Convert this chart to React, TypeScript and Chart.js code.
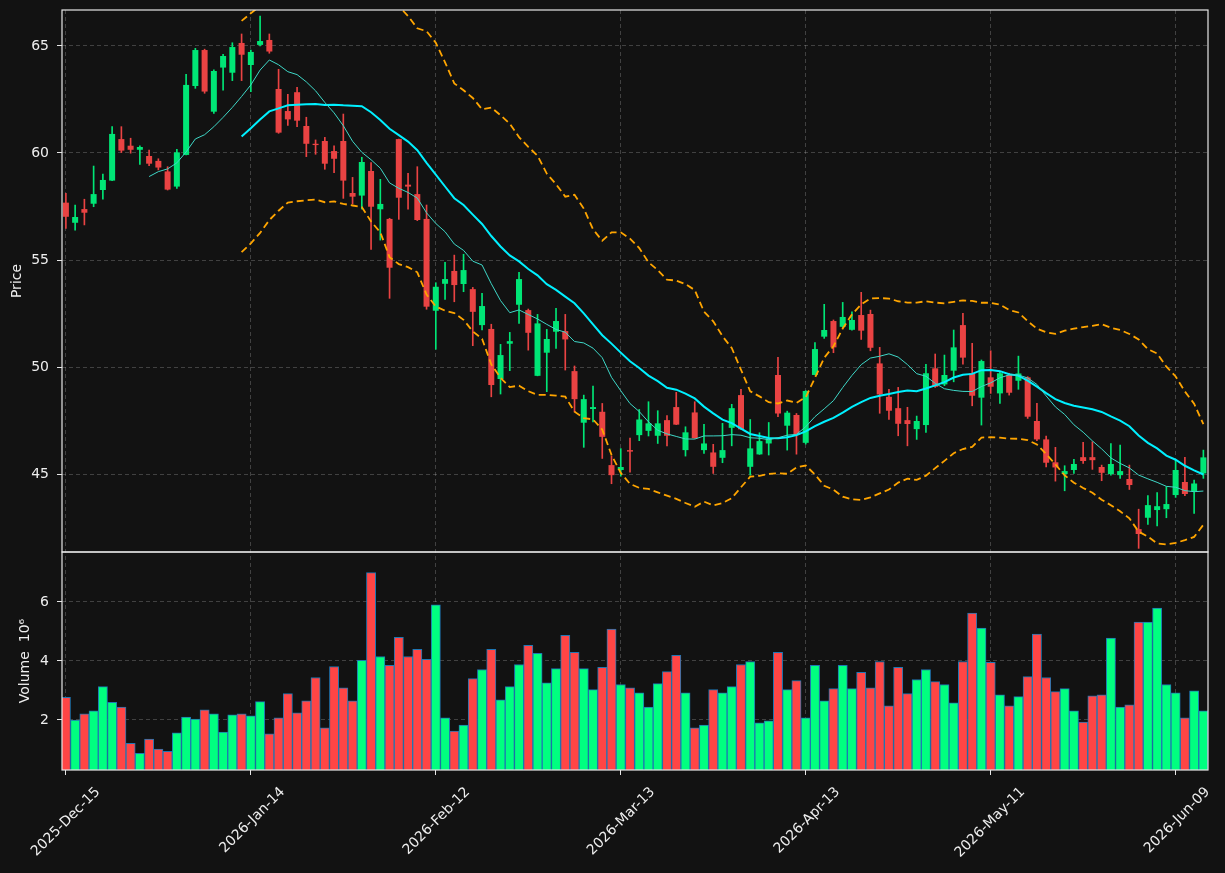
import React, { useEffect, useRef } from 'react';
import { Chart, registerables } from 'chart.js';

Chart.register(...registerables);

// ---- data ----
const opens = [
  57.68, 56.74, 57.38, 57.63, 58.27, 58.71, 60.65, 60.34, 60.15, 59.86,
  59.63, 59.14, 58.43, 59.91, 63.13, 64.81, 61.93, 63.99, 63.75, 65.14,
  64.11, 65.05, 65.28, 62.99, 61.96, 62.84, 61.26, 60.43, 60.56, 60.09,
  60.56, 58.13, 58.01, 59.16, 57.37, 56.92, 60.65, 58.52, 58.08, 56.92,
  52.63, 53.89, 54.49, 53.88, 53.64, 51.96, 51.78, 49.44, 51.09, 52.91,
  52.66, 49.59, 50.67, 51.65, 51.68, 49.81, 47.40, 48.04, 47.91, 45.42,
  45.19, 46.12, 46.82, 47.02, 46.79, 47.52, 48.13, 46.12, 47.88, 46.12,
  46.01, 45.76, 47.16, 48.69, 45.34, 45.92, 46.43, 49.63, 47.26, 47.76,
  46.46, 49.63, 51.42, 52.15, 51.88, 51.74, 52.43, 52.48, 50.17, 48.61,
  48.08, 47.52, 47.10, 47.29, 49.94, 49.19, 49.83, 51.96, 49.71, 48.57,
  49.52, 48.77, 49.63, 49.36, 49.52, 47.48, 46.62, 45.55, 45.00, 45.19,
  45.79, 45.79, 45.33, 45.00, 44.95, 44.77, 42.43, 42.96, 43.32, 43.36,
  44.02, 44.63, 44.21, 45.03,
];
const highs = [
  58.12, 57.57, 57.84, 59.39, 59.02, 61.23, 61.23, 60.69, 60.33, 60.14,
  59.73, 59.36, 60.17, 63.68, 64.89, 64.85, 63.88, 64.61, 65.15, 65.56,
  64.81, 66.40, 65.56, 63.91, 62.74, 63.07, 61.67, 60.61, 60.73, 60.33,
  61.82, 58.86, 59.80, 59.55, 58.77, 56.95, 60.65, 59.05, 59.36, 57.57,
  53.94, 54.89, 55.23, 55.27, 53.72, 53.44, 52.00, 51.06, 51.62, 54.43,
  52.71, 52.46, 51.76, 52.74, 52.46, 50.05, 48.69, 49.11, 48.30, 45.84,
  46.19, 46.68, 48.02, 48.38, 47.96, 47.73, 48.82, 47.21, 48.38, 47.32,
  46.39, 47.37, 48.26, 48.96, 47.55, 46.93, 47.41, 50.45, 47.94, 47.83,
  48.90, 51.14, 52.93, 52.20, 53.02, 52.58, 53.49, 52.66, 50.92, 48.96,
  49.05, 48.12, 47.71, 50.13, 50.61, 50.56, 51.73, 52.51, 51.11, 50.33,
  50.76, 49.78, 49.71, 50.51, 49.55, 48.30, 46.78, 46.25, 45.39, 45.69,
  46.48, 46.51, 45.42, 46.43, 46.36, 45.42, 43.36, 43.99, 44.14, 44.41,
  45.65, 45.78, 44.72, 46.12,
];
const lows = [
  56.48, 56.40, 56.64, 57.49, 57.84, 58.71, 60.02, 59.99, 59.47, 59.41,
  59.21, 58.27, 58.35, 59.91, 63.02, 62.79, 61.85, 62.94, 63.38, 63.38,
  62.87, 65.00, 64.66, 60.92, 61.29, 61.23, 59.83, 59.94, 59.24, 59.08,
  57.88, 57.62, 57.38, 55.50, 55.93, 53.21, 56.90, 57.38, 56.84, 52.70,
  50.83, 53.16, 53.05, 53.52, 51.00, 51.73, 48.61, 48.74, 49.83, 52.04,
  50.79, 49.59, 48.85, 50.87, 49.86, 47.91, 46.25, 47.44, 45.73, 44.55,
  44.90, 45.09, 46.56, 46.78, 46.43, 46.32, 47.31, 45.84, 46.67, 45.97,
  45.03, 45.53, 46.32, 47.09, 44.95, 45.92, 45.89, 47.68, 46.12, 45.93,
  46.40, 49.63, 51.34, 50.67, 51.85, 51.72, 51.29, 50.76, 47.84, 47.55,
  46.79, 46.32, 46.62, 46.95, 49.05, 49.13, 49.31, 50.13, 48.19, 47.29,
  48.77, 48.30, 48.69, 48.96, 47.60, 46.56, 45.34, 44.67, 44.22, 45.03,
  45.50, 45.22, 44.69, 44.95, 44.80, 44.28, 41.53, 42.65, 42.58, 42.96,
  43.91, 43.99, 43.16, 44.80,
];
const closes = [
  57.02, 57.01, 57.21, 58.08, 58.74, 60.89, 60.11, 60.15, 60.28, 59.50,
  59.32, 58.29, 60.03, 63.18, 64.81, 62.87, 63.83, 64.53, 64.95, 64.59,
  64.72, 65.23, 64.74, 60.95, 61.57, 61.51, 60.43, 60.37, 59.50, 59.73,
  58.71, 57.96, 59.58, 57.49, 57.62, 54.64, 57.91, 58.43, 56.87, 52.82,
  53.75, 54.11, 53.83, 54.53, 52.58, 52.85, 49.16, 50.56, 51.21, 54.11,
  51.60, 52.04, 51.31, 52.15, 51.29, 48.50, 48.50, 48.13, 46.74, 44.95,
  45.33, 46.05, 47.55, 47.37, 47.37, 46.79, 47.31, 46.95, 46.67, 46.43,
  45.34, 46.12, 48.08, 47.09, 46.20, 46.54, 46.67, 47.83, 47.87, 46.82,
  48.88, 50.84, 51.73, 50.92, 52.34, 52.20, 51.70, 50.90, 48.72, 47.96,
  47.35, 47.34, 47.48, 49.71, 49.08, 49.63, 50.92, 50.44, 48.66, 50.28,
  49.08, 49.71, 48.80, 49.70, 47.68, 46.62, 45.53, 45.31, 45.14, 45.47,
  45.61, 45.65, 45.06, 45.47, 45.14, 44.49, 42.20, 43.55, 43.50, 43.60,
  45.19, 44.07, 44.56, 45.78,
];
const volumes = [
  2.77, 2.00, 2.21, 2.31, 3.13, 2.60, 2.44, 1.21, 0.87, 1.35,
  1.01, 0.94, 1.56, 2.10, 2.03, 2.34, 2.21, 1.59, 2.17, 2.21,
  2.14, 2.62, 1.53, 2.07, 2.89, 2.24, 2.65, 3.44, 1.73, 3.81,
  3.09, 2.65, 4.02, 6.99, 4.15, 3.85, 4.80, 4.15, 4.39, 4.05,
  5.90, 2.07, 1.62, 1.83, 3.40, 3.71, 4.39, 2.68, 3.13, 3.88,
  4.53, 4.26, 3.26, 3.74, 4.87, 4.29, 3.74, 3.03, 3.78, 5.08,
  3.20, 3.09, 2.92, 2.44, 3.23, 3.64, 4.19, 2.92, 1.73, 1.83,
  3.03, 2.92, 3.13, 3.88, 3.98, 1.90, 1.97, 4.29, 3.03, 3.33,
  2.07, 3.85, 2.65, 3.06, 3.85, 3.06, 3.61, 3.09, 3.98, 2.48,
  3.78, 2.89, 3.37, 3.71, 3.30, 3.20, 2.58, 3.98, 5.62, 5.11,
  3.95, 2.85, 2.48, 2.79, 3.47, 4.91, 3.44, 2.96, 3.06, 2.31,
  1.93, 2.82, 2.85, 4.77, 2.44, 2.51, 5.32, 5.32, 5.79, 3.20,
  2.92, 2.07, 2.99, 2.31,
];
const tickIdx = [0, 20, 40, 60, 80, 100, 120];
const tickLabels = [
  '2025-Dec-15', '2026-Jan-14', '2026-Feb-12', '2026-Mar-13',
  '2026-Apr-13', '2026-May-11', '2026-Jun-09',
];
const priceTicks = [45, 50, 55, 60, 65];
const volTicks = [2, 4, 6];

// ---- derived indicators ----
function rollingMean(values: number[], n: number) {
  const out: { x: number; y: number }[] = [];
  for (let i = n - 1; i < values.length; i++) {
    let s = 0;
    for (let j = i - n + 1; j <= i; j++) s += values[j];
    out.push({ x: i, y: s / n });
  }
  return out;
}
function bollinger(values: number[], n: number, k: number, sign: number) {
  const out: { x: number; y: number }[] = [];
  for (let i = n - 1; i < values.length; i++) {
    let s = 0;
    for (let j = i - n + 1; j <= i; j++) s += values[j];
    const m = s / n;
    let v = 0;
    for (let j = i - n + 1; j <= i; j++) v += (values[j] - m) ** 2;
    const sd = Math.sqrt(v / n);
    out.push({ x: i, y: m + sign * k * sd });
  }
  return out;
}

const UP = '#00e676';
const DOWN = '#ea4343';
const VUP = '#00ff80';
const VDOWN = '#ff4545';
const TEXT = '#eeeeee';
const GRID = 'rgba(255,255,255,0.2)';
const FONT = { family: 'DejaVu Sans', size: 14 };

const framePlugin = {
  id: 'panelFrames',
  afterDraw(chart: any) {
    const { ctx, chartArea } = chart;
    const y = chart.scales.y;
    const yv = chart.scales.yv;
    ctx.save();
    ctx.strokeStyle = '#e6e6e6';
    ctx.lineWidth = 1.2;
    ctx.setLineDash([]);
    ctx.strokeRect(chartArea.left, y.top, chartArea.right - chartArea.left, y.bottom - y.top);
    ctx.strokeRect(chartArea.left, yv.top, chartArea.right - chartArea.left, yv.bottom - yv.top);
    ctx.restore();
  },
};

const yFit = (s: any) => {
  s.width = 62;
  s.paddingTop = 0;
  s.paddingBottom = 0;
};

export default function App() {
  const ref = useRef<HTMLCanvasElement | null>(null);

  useEffect(() => {
    if (!ref.current) return;
    const idx = closes.map((_, i) => i);
    const isUp = idx.map((i) => closes[i] >= opens[i]);

    const chart = new Chart(ref.current, {
      type: 'bar',
      data: {
        datasets: [
          {
            type: 'line',
            data: rollingMean(closes, 10),
            yAxisID: 'y',
            borderColor: '#3fd8c8',
            borderWidth: 1,
            pointRadius: 0,
            order: 0,
          },
          {
            type: 'line',
            data: rollingMean(closes, 20),
            yAxisID: 'y',
            borderColor: '#00f0ff',
            borderWidth: 2,
            pointRadius: 0,
            order: 0,
          },
          {
            type: 'line',
            data: bollinger(closes, 20, 2, 1),
            yAxisID: 'y',
            borderColor: '#ffa500',
            borderWidth: 1.8,
            borderDash: [7, 4],
            pointRadius: 0,
            order: 0,
          },
          {
            type: 'line',
            data: bollinger(closes, 20, 2, -1),
            yAxisID: 'y',
            borderColor: '#ffa500',
            borderWidth: 1.8,
            borderDash: [7, 4],
            pointRadius: 0,
            order: 0,
          },
          {
            type: 'bar',
            data: idx.map((i) => ({ x: i, y: [opens[i], closes[i]] })),
            yAxisID: 'y',
            backgroundColor: isUp.map((u) => (u ? UP : DOWN)),
            borderWidth: 0,
            barPercentage: 0.65,
            categoryPercentage: 1,
            grouped: false,
            order: 1,
          },
          {
            type: 'bar',
            data: idx.map((i) => ({ x: i, y: [lows[i], highs[i]] })),
            yAxisID: 'y',
            backgroundColor: isUp.map((u) => (u ? UP : DOWN)),
            borderWidth: 0,
            barThickness: 1,
            grouped: false,
            order: 2,
          },
          {
            type: 'bar',
            data: idx.map((i) => ({ x: i, y: volumes[i] })),
            yAxisID: 'yv',
            backgroundColor: isUp.map((u) => (u ? VUP : VDOWN)),
            borderColor: '#1f77b4',
            borderWidth: 1,
            barPercentage: 1,
            categoryPercentage: 1,
            grouped: false,
            order: 3,
          },
        ] as any,
      },
      options: {
        responsive: false,
        animation: false,
        devicePixelRatio: 1,
        layout: { padding: { left: 0, right: 17, top: 10, bottom: 0 } },
        plugins: { legend: { display: false }, tooltip: { enabled: false } },
        scales: {
          x: {
            type: 'linear',
            min: -0.42,
            max: 123.5,
            offset: false,
            afterBuildTicks: (s: any) => {
              s.ticks = tickIdx.map((v) => ({ value: v }));
            },
            afterFit: (s: any) => {
              s.height = 103;
              s.paddingLeft = 0;
              s.paddingRight = 0;
            },
            ticks: {
              autoSkip: false,
              maxRotation: 45,
              minRotation: 45,
              labelOffset: 32,
              padding: 9,
              color: TEXT,
              font: FONT,
              callback: (v: any) => {
                const k = tickIdx.indexOf(Number(v));
                return k >= 0 ? tickLabels[k] : '';
              },
            },
            grid: {
              color: GRID,
              lineWidth: 1,
              offset: false,
              tickColor: '#e6e6e6',
              tickLength: 5,
              tickWidth: 1,
              tickBorderDash: [],
            },
            border: { display: false, dash: [4, 3] },
          },
          yv: {
            type: 'linear',
            position: 'left',
            stack: 'panels',
            stackWeight: 218,
            min: 0.305,
            max: 7.69,
            afterBuildTicks: (s: any) => {
              s.ticks = volTicks.map((v) => ({ value: v }));
            },
            afterFit: yFit,
            ticks: { padding: 8, color: TEXT, font: FONT },
            grid: {
              color: GRID,
              lineWidth: 1,
              tickColor: '#e6e6e6',
              tickLength: 5,
              tickWidth: 1,
              tickBorderDash: [],
            },
            border: { display: false, dash: [4, 3] },
            title: {
              display: true,
              text: 'Volume  10⁶',
              color: TEXT,
              font: FONT,
              padding: { top: 17, bottom: 0 },
            },
          },
          y: {
            type: 'linear',
            position: 'left',
            stack: 'panels',
            stackWeight: 542,
            min: 41.36,
            max: 66.68,
            afterBuildTicks: (s: any) => {
              s.ticks = priceTicks.map((v) => ({ value: v }));
            },
            afterFit: yFit,
            ticks: { padding: 8, color: TEXT, font: FONT },
            grid: {
              color: GRID,
              lineWidth: 1,
              tickColor: '#e6e6e6',
              tickLength: 5,
              tickWidth: 1,
              tickBorderDash: [],
            },
            border: { display: false, dash: [4, 3] },
            title: {
              display: true,
              text: 'Price',
              color: TEXT,
              font: FONT,
              padding: { top: 9, bottom: 0 },
            },
          },
        },
      } as any,
      plugins: [framePlugin],
    });
    return () => chart.destroy();
  }, []);

  return (
    <div
      style={{
        position: 'fixed',
        left: 0,
        top: 0,
        width: 1225,
        height: 873,
        background: '#121212',
        overflow: 'hidden',
      }}
    >
      <canvas ref={ref} width={1225} height={873} style={{ display: 'block' }} />
    </div>
  );
}
